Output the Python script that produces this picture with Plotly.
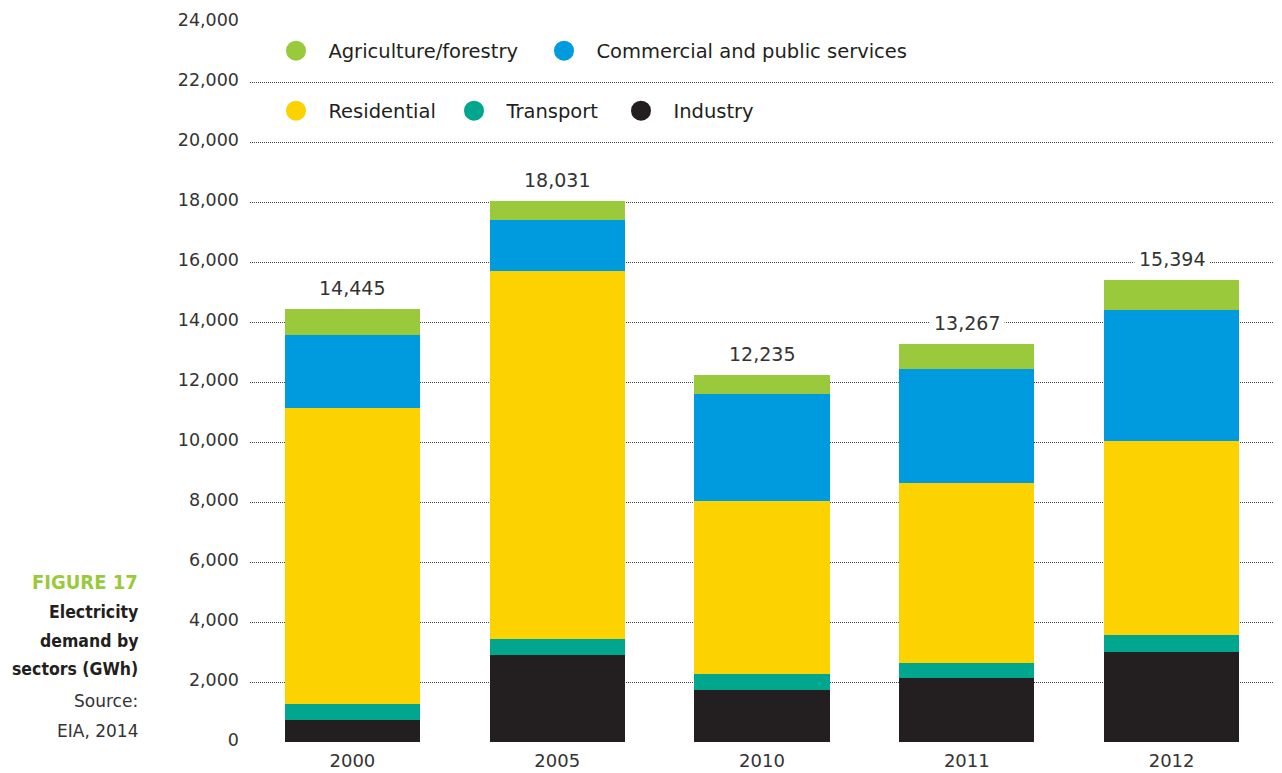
import plotly.graph_objects as go

years = ["2000", "2005", "2010", "2011", "2012"]
industry = [730, 2900, 1730, 2140, 3000]
transport = [540, 530, 540, 500, 570]
residential = [9870, 12270, 5770, 6000, 6460]
commercial = [2430, 1700, 3560, 3800, 4370]
agriculture = [875, 631, 635, 827, 994]
totals = [14445, 18031, 12235, 13267, 15394]
y_ticks = list(range(0, 24001, 2000))

series = [
    ("Industry", industry, "#231F20"),
    ("Transport", transport, "#00A78E"),
    ("Residential", residential, "#FCD200"),
    ("Commercial and public services", commercial, "#009BDE"),
    ("Agriculture/forestry", agriculture, "#9ACA3C"),
]

FONT = "DejaVu Sans"
TXT = "#231F20"

fig = go.Figure()
for name, vals, col in series:
    fig.add_trace(go.Bar(x=years, y=vals, name=name, marker_color=col,
                         marker_line_width=0, showlegend=False))

# legend entries (circle markers), each in its own legend box
W, H, L, T = 1024, 720, 250, 22
def px_x(p):
    return (p - L) / W
def px_y(p):
    return (T + H - p) / H

legend_pos = {
    "Agriculture/forestry": ("legend", 296, 51),
    "Commercial and public services": ("legend2", 564, 51),
    "Residential": ("legend3", 296, 111),
    "Transport": ("legend4", 474, 111),
    "Industry": ("legend5", 641, 111),
}
legend_layouts = {}
for name, vals, col in series:
    lg, cx, cy = legend_pos[name]
    fig.add_trace(go.Scatter(x=[None], y=[None], mode="markers", name="\u00a0\u00a0" + name,
                             marker=dict(symbol="circle", size=16, color=col,
                                         line=dict(color=col, width=4)),
                             legend=lg, showlegend=True, hoverinfo="skip"))
    legend_layouts[lg] = dict(x=px_x(cx - 20), y=px_y(cy), xanchor="left", yanchor="middle",
                              bgcolor="rgba(0,0,0,0)", borderwidth=0,
                              font=dict(family=FONT, size=19.5, color=TXT),
                              orientation="h", itemsizing="trace")

# totals above bars
annotations = []
for i, tot in enumerate(totals):
    annotations.append(dict(x=i, y=tot, xref="x", yref="y", text=f"{tot:,}",
                            showarrow=False, yshift=21, bgcolor="white", borderpad=4,
                            font=dict(family=FONT, size=19, color="#333333")))

caption = [
    ("<b>FIGURE 17</b>", "#9ACA3C", 581.7, "DejaVu Sans Condensed", 20),
    ("<b>Electricity</b>", TXT, 612, "DejaVu Sans Condensed", 17.5),
    ("<b>demand by</b>", TXT, 641, "DejaVu Sans Condensed", 17.5),
    ("<b>sectors (GWh)</b>", TXT, 669, "DejaVu Sans Condensed", 17.5),
    ("Source:", "#333333", 701, FONT, 17),
    ("EIA, 2014", "#333333", 730.5, FONT, 17),
]
for txt, col, py, fam, sz in caption:
    annotations.append(dict(x=px_x(140), y=px_y(py), xref="paper", yref="paper",
                            xanchor="right", yanchor="middle", align="right", text=txt,
                            showarrow=False, font=dict(family=fam, size=sz, color=col)))

fig.update_layout(
    width=1282, height=773,
    margin=dict(l=L, r=1282 - L - W, t=T, b=773 - T - H, pad=0, autoexpand=False),
    paper_bgcolor="white", plot_bgcolor="white",
    barmode="stack", bargap=0.34,
    font=dict(family=FONT, size=17, color="#333333"),
    annotations=annotations,
    **legend_layouts,
)
fig.update_xaxes(type="category", range=[-0.5, 4.5], showgrid=False, showline=False,
                 automargin=False,
                 ticks="", tickfont=dict(size=18, color="#333333"), ticklabelstandoff=6)
fig.update_yaxes(range=[0, 24000], tickvals=y_ticks, tickformat=",", showgrid=True,
                 automargin=False,
                 gridcolor="#444444", griddash="1px,1px", gridwidth=1, zeroline=False,
                 showline=False, ticks="", ticklabelstandoff=10, ticklabelshift=-2,
                 tickfont=dict(size=17.5, color="#333333"))

fig.write_html("out.html", config={"displayModeBar": False},
               post_script="document.body.style.margin='0';document.body.style.overflow='hidden';")
